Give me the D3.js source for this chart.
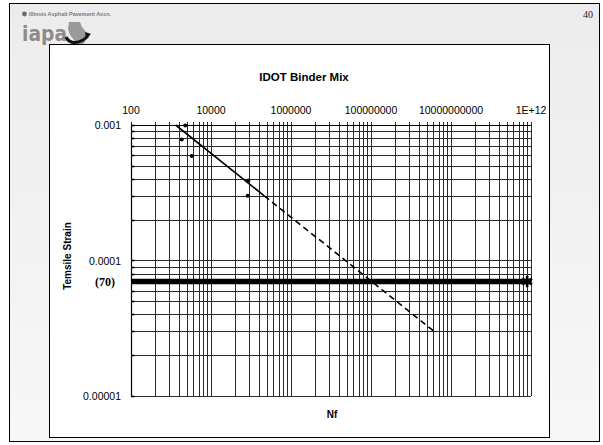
<!DOCTYPE html>
<html>
<head>
<meta charset="utf-8">
<script src="https://cdn.jsdelivr.net/npm/d3@7"></script>
<style>
  html, body { margin: 0; padding: 0; background: #ffffff; }
  svg { display: block; }
</style>
</head>
<body>
<svg id="slide" width="603" height="445"></svg>
<script>
// Fatigue test results for the IDOT binder mix
const testNf = [2270, 1860, 3300, 86000, 83000];
const testStrain = [0.00099, 0.00078, 0.00059, 0.00039, 0.0003];

// Fitted fatigue line: solid over the tested range, dashed as extrapolation
const fitSolidNf = [1300, 215000];
const fitSolidStrain = [0.001, 0.0003];
const fitDashNf = [215000, 3800000000];
const fitDashStrain = [0.0003, 0.00003];

// Endurance limit (70 microstrain)
const limitNf = [100, 1e12];
const limitStrain = [0.00007, 0.00007];
const limitMarkerNf = [800000000000];
const limitLabel = "(70)";

// Axis ticks and labels
const xTicks = [1e2, 1e4, 1e6, 1e8, 1e10, 1e12];
const xTickLabels = ["100", "10000", "1000000", "100000000", "10000000000", "1E+12"];
const yTicks = [0.001, 0.0001, 0.00001];
const yTickLabels = ["0.001", "0.0001", "0.00001"];

const chartTitle = "IDOT Binder Mix";
const xTitle = "Nf";
const yTitle = "Temsile Strain";
const pageNumber = "40";
const assocName = "Illinois Asphalt Pavement Assn.";

const svg = d3.select("#slide");
const sans = "Liberation Sans, Arial, sans-serif";

// ----- slide background and frames -----
const defs = svg.append("defs");
const grad = defs.append("linearGradient").attr("id", "bg").attr("x1", 0).attr("y1", 0).attr("x2", 0).attr("y2", 1);
grad.append("stop").attr("offset", "0%").attr("stop-color", "#ececec");
grad.append("stop").attr("offset", "100%").attr("stop-color", "#f7f7f7");

svg.append("rect").attr("x", 9.5).attr("y", 3.5).attr("width", 590).attr("height", 438)
  .attr("fill", "url(#bg)").attr("stroke", "#000").attr("stroke-width", 1);

svg.append("text").attr("x", 593).attr("y", 18).attr("text-anchor", "end")
  .attr("font-family", "Liberation Serif, Times New Roman, serif").attr("font-size", 10)
  .attr("fill", "#222").text(pageNumber);

// association logo
const logo = svg.append("g");
logo.append("circle").attr("cx", 24.5).attr("cy", 14).attr("r", 2.4).attr("fill", "#6d6d6d");
logo.append("text").attr("x", 29).attr("y", 15.8).attr("font-family", sans)
  .attr("font-size", 5.2).attr("font-weight", "bold").attr("fill", "#7a7a7a")
  .attr("textLength", 82).attr("lengthAdjust", "spacingAndGlyphs").text(assocName);
logo.append("text").attr("x", 22).attr("y", 41).attr("font-family", "DejaVu Sans, sans-serif")
  .attr("font-size", 21).attr("font-weight", "bold").attr("fill", "#8c8c8c")
  .attr("textLength", 45).attr("lengthAdjust", "spacingAndGlyphs").text("iapa");
logo.append("path")
  .attr("d", "M69,22 L80,22 L82,27 L86,32 L87,38 L84,43 L81,47 L77,45 L74,40 L70,35 L68,29 Z")
  .attr("fill", "#9a9a9a");
logo.append("path")
  .attr("d", "M66,37 C70,45 80,44 88,36")
  .attr("fill", "none").attr("stroke", "#111").attr("stroke-width", 3);
logo.append("path").attr("d", "M85,32 L91,34 L86,39 Z").attr("fill", "#111");

// chart frame
svg.append("rect").attr("x", 49.5).attr("y", 44.5).attr("width", 500).attr("height", 393)
  .attr("fill", "#ffffff").attr("stroke", "#000").attr("stroke-width", 1);

// ----- scales -----
const x = d3.scaleLog().domain([1e2, 1e12]).range([131, 531]);
const y = d3.scaleLog().domain([0.001, 0.00001]).range([125, 396]);
const px = v => Math.round(v) + 0.5;

const plot = svg.append("g");

// horizontal grid: base-10 decades with minors at 2..9
const yGrid = [];
for (let e = -5; e < -3; e++) {
  for (let k = 1; k <= 9; k++) yGrid.push(k * Math.pow(10, e));
}
yGrid.push(0.001);
plot.append("g").selectAll("line").data(yGrid).join("line")
  .attr("x1", x.range()[0]).attr("x2", x.range()[1])
  .attr("y1", d => px(y(d))).attr("y2", d => px(y(d)))
  .attr("stroke", "#2a2a2a").attr("stroke-width", 1);

// vertical grid: majors every two decades, minors at k^2 within each major step
const xGrid = [];
for (let i = 0; i < xTicks.length - 1; i++) {
  for (let k = 1; k <= 9; k++) xGrid.push(xTicks[i] * k * k);
}
xGrid.push(xTicks[xTicks.length - 1]);
plot.append("g").selectAll("line").data(xGrid).join("line")
  .attr("x1", d => px(x(d))).attr("x2", d => px(x(d)))
  .attr("y1", y.range()[0] - 3).attr("y2", y.range()[1])
  .attr("stroke", "#2a2a2a").attr("stroke-width", 1);

// axis lines
plot.append("line").attr("x1", px(x(1e2))).attr("x2", px(x(1e2)))
  .attr("y1", y.range()[0]).attr("y2", y.range()[1] + 0.5)
  .attr("stroke", "#000").attr("stroke-width", 1.2);
plot.append("line").attr("x1", x.range()[0]).attr("x2", x.range()[1] + 0.5)
  .attr("y1", px(y(0.001))).attr("y2", px(y(0.001)))
  .attr("stroke", "#000").attr("stroke-width", 1.2);

// y ticks pointing into the plot
plot.append("g").selectAll("line").data(yGrid).join("line")
  .attr("x1", px(x(1e2))).attr("x2", px(x(1e2)) + 3)
  .attr("y1", d => px(y(d))).attr("y2", d => px(y(d)))
  .attr("stroke", "#000").attr("stroke-width", 1.6);

// tick labels
plot.append("g").selectAll("text").data(xTicks).join("text")
  .attr("x", d => x(d)).attr("y", 114)
  .attr("text-anchor", "middle").attr("font-family", sans).attr("font-size", 10.5)
  .attr("fill", "#000").text((d, i) => xTickLabels[i]);
plot.append("g").selectAll("text").data(yTicks).join("text")
  .attr("x", 121).attr("y", d => y(d) + 4)
  .attr("text-anchor", "end").attr("font-family", sans).attr("font-size", 10.5)
  .attr("fill", "#000").text((d, i) => yTickLabels[i]);

// titles
svg.append("text").attr("x", 304).attr("y", 81).attr("text-anchor", "middle")
  .attr("font-family", sans).attr("font-size", 11.5).attr("font-weight", "bold").text(chartTitle);
svg.append("text").attr("x", 332).attr("y", 418).attr("text-anchor", "middle")
  .attr("font-family", sans).attr("font-size", 10).attr("font-weight", "bold").text(xTitle);
svg.append("text").attr("transform", "translate(71,256) rotate(-90)").attr("text-anchor", "middle")
  .attr("font-family", sans).attr("font-size", 10).attr("font-weight", "bold").text(yTitle);

// endurance limit line and label
const lineGen = d3.line().x(d => x(d[0])).y(d => y(d[1]));
plot.append("path").datum(d3.zip(limitNf, limitStrain)).attr("d", lineGen)
  .attr("fill", "none").attr("stroke", "#000").attr("stroke-width", 5.5);
plot.selectAll(".lim").data(limitMarkerNf).join("path").attr("class", "lim")
  .attr("transform", d => `translate(${x(d)},${y(limitStrain[0])})`)
  .attr("d", d3.symbol().type(d3.symbolAsterisk).size(90))
  .attr("fill", "none").attr("stroke", "#000").attr("stroke-width", 2.6);
svg.append("text").attr("x", 105).attr("y", y(limitStrain[0]) + 5).attr("text-anchor", "middle")
  .attr("font-family", "Liberation Serif, Times New Roman, serif").attr("font-size", 12)
  .attr("font-weight", "bold").text(limitLabel);

// fitted fatigue line
plot.append("path").datum(d3.zip(fitSolidNf, fitSolidStrain)).attr("d", lineGen)
  .attr("fill", "none").attr("stroke", "#000").attr("stroke-width", 1.6);
plot.append("path").datum(d3.zip(fitDashNf, fitDashStrain)).attr("d", lineGen)
  .attr("fill", "none").attr("stroke", "#000").attr("stroke-width", 1.6)
  .attr("stroke-dasharray", "6,4");

// test points
plot.append("g").selectAll("circle").data(d3.zip(testNf, testStrain)).join("circle")
  .attr("cx", d => x(d[0])).attr("cy", d => y(d[1])).attr("r", 2)
  .attr("fill", "#000");
</script>
</body>
</html>
